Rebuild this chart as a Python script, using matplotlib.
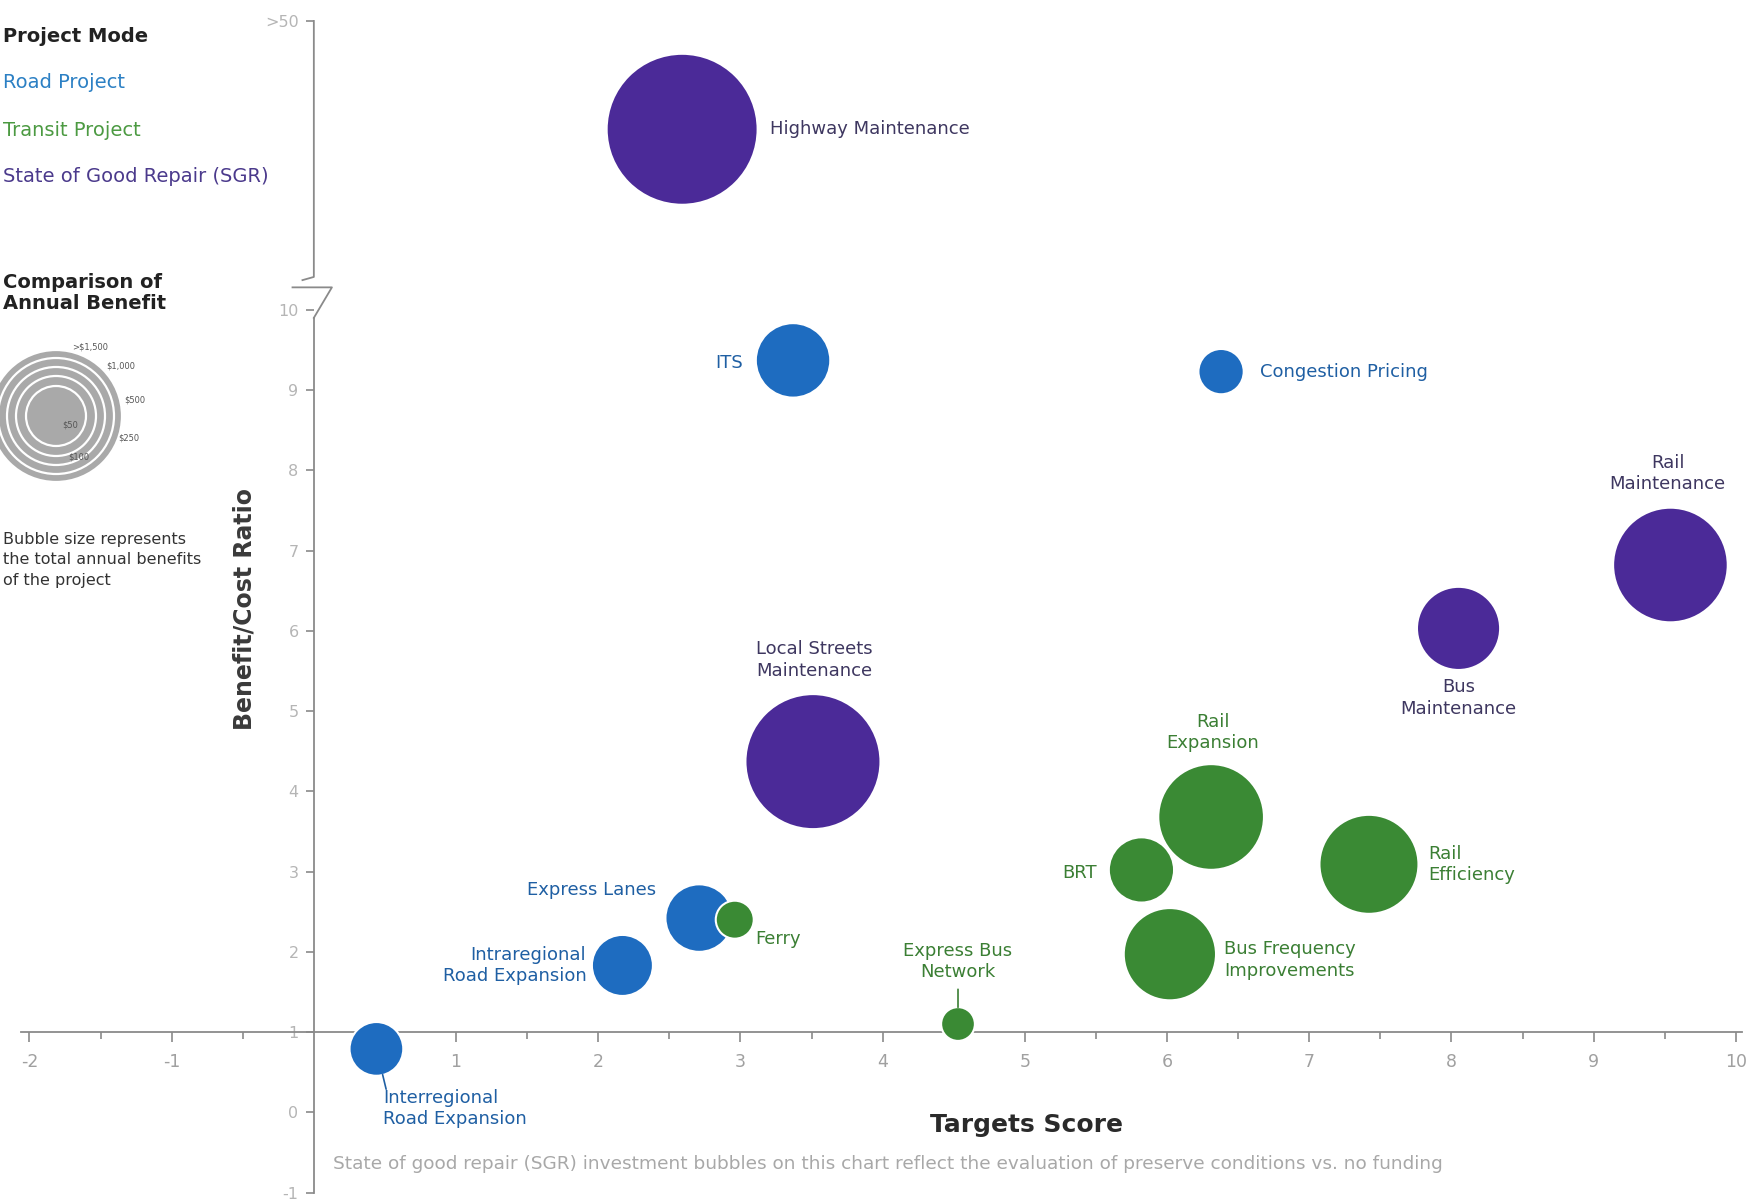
import numpy as np
import matplotlib.pyplot as plt
from matplotlib.patches import Circle

plt.rcParams['font.family'] = ['DejaVu Sans']
plt.rcParams['axes.unicode_minus'] = False

# Projects
projects = ['Highway Maintenance', 'ITS', 'Congestion Pricing', 'Rail\nMaintenance', 'Bus\nMaintenance',
            'Local Streets\nMaintenance', 'Rail\nExpansion', 'BRT', 'Rail\nEfficiency',
            'Bus Frequency\nImprovements', 'Express Lanes', 'Ferry', 'Intraregional\nRoad Expansion',
            'Express Bus\nNetwork', 'Interregional\nRoad Expansion']
mode = ['SGR', 'Road', 'Road', 'SGR', 'SGR', 'SGR', 'Transit', 'Transit', 'Transit', 'Transit',
        'Road', 'Transit', 'Road', 'Transit', 'Road']
targets_score = [2.59, 3.37, 6.38, 9.54, 8.05, 3.51, 6.31, 5.82, 7.42, 6.02, 2.71, 2.96, 2.17, 4.53, 0.44]
bc_ratio = [35.0, 9.37, 9.23, 6.82, 6.03, 4.37, 3.68, 3.02, 3.09, 1.97, 2.42, 2.40, 1.83, 1.10, 0.79]
annual_benefit = [3000, 730, 270, 1730, 910, 2400, 1470, 560, 1290, 1120, 600, 190, 490, 150, 380]

legend_modes = ['Road Project', 'Transit Project', 'State of Good Repair (SGR)']
size_labels = ['>$1,500', '$1,000', '$500', '$250', '$100', '$50']

x_ticks = [-2, -1, 1, 2, 3, 4, 5, 6, 7, 8, 9, 10]
y_ticks = [-1, 0, 1, 2, 3, 4, 5, 6, 7, 8, 9, 10, 50]
y_ticklabels = ['-1', '0', '1', '2', '3', '4', '5', '6', '7', '8', '9', '10', '>50']

footnote = ('State of good repair (SGR) investment bubbles on this chart reflect the evaluation '
            'of preserve conditions vs. no funding')

fill = {'Road': '#1e6cc0', 'Transit': '#3a8a34', 'SGR': '#4b2a98'}
text_col = {'Road': '#1f5fa3', 'Transit': '#3b7f34', 'SGR': '#3e3760'}
legend_col = ['#2c80c4', '#4c9a42', '#4b3a8c']

# label placement (offset in points, alignment)
label_style = [((63, 0), 'left'), ((-36, -2), 'right'), ((28, 0), 'left'), ((-2, 66), 'center'),
               ((0, -50), 'center'), ((1, 73), 'center'), ((1, 61), 'center'), ((-32, -2), 'right'),
               ((43, 0), 'left'), ((39, -4), 'left'), ((-31, 20), 'right'), ((15, -14), 'left'),
               ((-26, 0), 'right'), ((0, 45), 'center'), ((5, -43), 'left')]

# broken y axis: everything above 10 is squeezed
BREAK = 10
SQUEEZE = 0.09


def fwd(y):
    y = np.asarray(y, dtype=float)
    return np.where(y <= BREAK, y, BREAK + (y - BREAK) * SQUEEZE)


def inv(v):
    v = np.asarray(v, dtype=float)
    return np.where(v <= BREAK, v, BREAK + (v - BREAK) / SQUEEZE)


W, H = 1764, 1202
fig = plt.figure(figsize=(W / 100, H / 100), dpi=100)
ax = fig.add_axes([0, 0, 1, 1])
ax.set_yscale('function', functions=(fwd, inv))
ax.set_xlim(-2.207, 10.198)
ax.set_ylim(float(inv(-1.118)), float(inv(13.861)))
ax.patch.set_alpha(0)

sizes = [3.94 * b for b in annual_benefit]
ax.scatter(targets_score, bc_ratio, s=sizes, c=[fill[m] for m in mode],
           edgecolors='white', linewidths=1.5, zorder=3)

for name, m, x, y, (off, ha) in zip(projects, mode, targets_score, bc_ratio, label_style):
    ax.annotate(name, (x, y), xytext=off, textcoords='offset points', ha=ha, va='center',
                fontsize=13, color=text_col[m], linespacing=1.25, zorder=4)

# leader lines
i = projects.index('Express Bus\nNetwork')
ax.annotate('', (targets_score[i], bc_ratio[i]), xytext=(0, 25), textcoords='offset points',
            arrowprops=dict(arrowstyle='-', color='#3b7f34', lw=1.2, shrinkA=0, shrinkB=12))
i = projects.index('Interregional\nRoad Expansion')
ax.annotate('', (targets_score[i], bc_ratio[i]), xytext=(7, -29), textcoords='offset points',
            arrowprops=dict(arrowstyle='-', color='#1f5fa3', lw=1.2, shrinkA=0, shrinkB=19))

# axes styling
axis_col = '#8a8a8a'
for s in ['top', 'right']:
    ax.spines[s].set_visible(False)
ax.spines['bottom'].set_position(('data', 1))
ax.spines['bottom'].set_bounds(-2.06, 10.04)
ax.spines['left'].set_position(('data', 0))
ax.spines['left'].set_bounds(-1, 9.9)
for s in ['bottom', 'left']:
    ax.spines[s].set_color(axis_col)
    ax.spines[s].set_linewidth(1.3)

ax.set_xticks(x_ticks)
ax.set_xticks(np.arange(-1.5, 10, 1.0), minor=True)
ax.tick_params(axis='x', which='major', direction='out', length=7, width=1.2, color=axis_col,
               labelsize=12.5, labelcolor='#a0a0a0', pad=8)
ax.tick_params(axis='x', which='minor', direction='out', length=5, width=1.2, color=axis_col)
ax.set_yticks(y_ticks)
ax.set_yticklabels(y_ticklabels)
ax.yaxis.set_minor_locator(plt.NullLocator())
ax.tick_params(axis='y', direction='out', length=6, width=1.2, color=axis_col,
               labelsize=11.5, labelcolor='#b5b5b5', pad=5)

# upper spine segment and break mark
ax.plot([-0.08, 0, 0], [float(inv(10.37)), float(inv(10.41)), 50], color=axis_col, lw=1.3,
        clip_on=False, zorder=2)
ax.plot([0, 0.127, -0.15], [9.9, float(inv(10.28)), float(inv(10.28))], color=axis_col, lw=1.3,
        clip_on=False, zorder=2)

fig.text(245 / W, 1 - 609 / H, 'Benefit/Cost Ratio', rotation=90, ha='center', va='center',
         fontsize=17, fontweight='bold', color='#3a3a3a')
fig.text(1027 / W, 1 - 1125 / H, 'Targets Score', ha='center', va='center',
         fontsize=18, fontweight='bold', color='#2a2a2a')
fig.text(333 / W, 1 - 1164 / H, footnote, ha='left', va='center', fontsize=13.3, color='#a8a8a8')

# legend on the left
fig.text(3 / W, 1 - 37 / H, 'Project Mode', ha='left', va='center', fontsize=14,
         fontweight='bold', color='#222222')
for lab, col, yy in zip(legend_modes, legend_col, [82, 130, 177]):
    fig.text(3 / W, 1 - yy / H, lab, ha='left', va='center', fontsize=14, color=col)
fig.text(3 / W, 1 - 293 / H, 'Comparison of\nAnnual Benefit', ha='left', va='center',
         fontsize=14, fontweight='bold', color='#222222', linespacing=1.15)
fig.text(3 / W, 1 - 560 / H, 'Bubble size represents\nthe total annual benefits\nof the project',
         ha='left', va='center', fontsize=11.5, color='#333333', linespacing=1.45)

# size legend, drawn in pixel units
lax = fig.add_axes([-108 / W, 1 - 560 / H, 300 / W, 280 / H])
lax.set_xlim(-164, 136)
lax.set_ylim(-144, 136)
lax.axis('off')
for r in [66, 58, 49, 40, 30]:
    lax.add_patch(Circle((0, 0), r, facecolor='#a9a9a9', edgecolor='white', lw=1.6))
for lab, (tx, ty) in zip(size_labels, [(16, 69), (50, 50), (68, 16), (62, -22), (12, -41), (6, -9)]):
    lax.text(tx, ty, lab, fontsize=6, color='#555555', ha='left', va='center')

fig.savefig('out.png', dpi=100)
